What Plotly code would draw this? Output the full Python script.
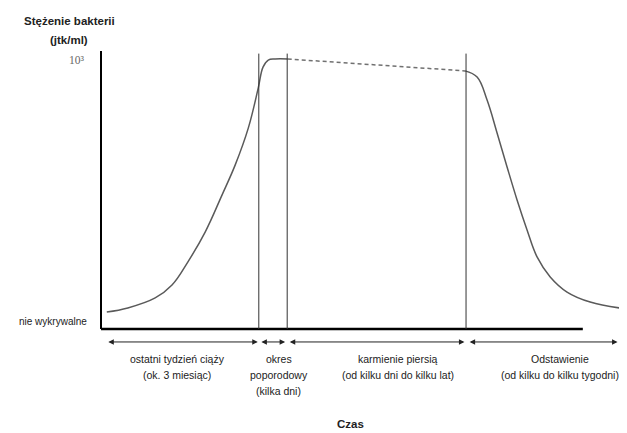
import plotly.graph_objects as go

# ---- data (time in arbitrary units, level: 0 = undetectable, 1 = 10^3 jtk/ml) ----
rise_t = [1.1, 5.1, 10.3, 13.5, 16.5, 19.8, 23.0, 25.5, 28.0, 29.9, 30.8, 31.8, 33.1, 35.5]
rise_v = [0.063, 0.078, 0.115, 0.163, 0.248, 0.359, 0.496, 0.607, 0.744, 0.893, 0.970, 0.996, 1.0, 1.0]
plateau_t = [35.5, 69.2]
plateau_v = [1.0, 0.956]
fall_t = [69.2, 71.5, 73.4, 75.3, 77.2, 79.1, 81.0, 82.9, 85.4, 88.6, 93.0, 100.0]
fall_v = [0.956, 0.933, 0.848, 0.726, 0.600, 0.478, 0.367, 0.267, 0.193, 0.137, 0.100, 0.074]

phase_bounds = [30.0, 35.4, 69.4]
axis_end_t = 91.6
segments = [(1.1, 29.8), (30.2, 35.0), (35.6, 69.1), (69.8, 98.2)]
phase_labels = [
    ["ostatni tydzień ciąży", "(ok. 3 miesiąc)"],
    ["okres", "poporodowy", "(kilka dni)"],
    ["karmienie piersią", "(od kilku dni do kilku lat)"],
    ["Odstawienie", "(od kilku do kilku tygodni)"],
]
phase_label_t = [14.5, 33.8, 56.4, 87.3]
y_ticks = [0.0, 1.0]
y_ticktext = ["nie wykrywalne", "10³"]

CURVE = "#5a5a5a"
DARK = "#222222"

# ---- geometry (page body has an 8px margin) ----
OFF = 8
W, H = 627 - OFF, 433 - OFF
L, T, B = 98 - OFF, 48 - OFF, 100
R = 0
pw, ph = W - L - R, H - T - B
ppu_y = 270.0   # px per level unit (level 0 at ref px 329, level 1 at ref px 59)
ppu_x = 5.26    # px per time unit (t=0 at ref px 101)
xr = [(98 - 101) / ppu_x, (627 - 101) / ppu_x]
yr = [(329 - 333) / ppu_y, (329 - 48) / ppu_y]


def px_x(t):
    return (t - xr[0]) / (xr[1] - xr[0])


def px_y(v):
    return (v - yr[0]) / (yr[1] - yr[0])


def ref_to_paper(rx, ry):
    return (rx - OFF - L) / pw, (H - B - (ry - OFF)) / ph


fig = go.Figure()
fig.add_trace(go.Scatter(x=rise_t, y=rise_v, mode="lines",
                         line=dict(color=CURVE, width=1.5, shape="spline", smoothing=1.1),
                         hoverinfo="skip"))
fig.add_trace(go.Scatter(x=plateau_t, y=plateau_v, mode="lines",
                         line=dict(color="#707070", width=1.5, dash="4px,3px"),
                         hoverinfo="skip"))
fig.add_trace(go.Scatter(x=fall_t, y=fall_v, mode="lines",
                         line=dict(color=CURVE, width=1.5, shape="spline", smoothing=1.1),
                         hoverinfo="skip"))

shapes = []
shapes.append(dict(type="line", xref="x", yref="y", x0=0, x1=0, y0=0, y1=1.03,
                   line=dict(color="black", width=2)))
shapes.append(dict(type="line", xref="x", yref="y", x0=0, x1=axis_end_t, y0=0, y1=0,
                   line=dict(color="black", width=2.5)))
for b in phase_bounds:
    shapes.append(dict(type="line", xref="x", yref="y", x0=b, x1=b, y0=0, y1=1.02,
                       line=dict(color="#333333", width=1)))

annotations = []
arrow_y = px_y(-0.048)
for a, b in segments:
    annotations.append(dict(x=px_x(b), y=arrow_y, ax=(a - b) * ppu_x, ay=0,
                            xref="paper", yref="paper", axref="pixel", ayref="pixel",
                            text="", showarrow=True, arrowhead=2, arrowsize=1.1,
                            arrowwidth=1, arrowside="end+start", arrowcolor=DARK,
                            standoff=0, startstandoff=0))
line_y = [359, 375, 391]
for lines, t in zip(phase_labels, phase_label_t):
    for k, txt in enumerate(lines):
        _, py = ref_to_paper(0, line_y[k])
        annotations.append(dict(x=px_x(t), y=py, xref="paper", yref="paper", text=txt,
                                showarrow=False, xanchor="center", yanchor="middle",
                                font=dict(family="Liberation Sans", size=10.5, color=DARK)))

# y-level labels
annotations.append(dict(x=px_x(-2.2), y=px_y(y_ticks[0] + 0.028), xref="paper", yref="paper",
                        text=y_ticktext[0], showarrow=False, xanchor="right", yanchor="middle",
                        font=dict(family="Liberation Sans", size=10, color=DARK)))
annotations.append(dict(x=px_x(-2.6), y=px_y(y_ticks[1] - 0.005), xref="paper", yref="paper",
                        text=y_ticktext[1], showarrow=False, xanchor="right", yanchor="middle",
                        font=dict(family="Liberation Serif", size=11.5, color="#666666")))

for txt, rx, ry in [("<b>Stężenie bakterii</b>", 69, 21), ("<b>(jtk/ml)</b>", 69, 40),
                    ("<b>Czas</b>", 350, 424)]:
    ax_, ay_ = ref_to_paper(rx, ry)
    annotations.append(dict(x=ax_, y=ay_, xref="paper", yref="paper", text=txt,
                            showarrow=False, xanchor="center", yanchor="middle",
                            font=dict(family="Liberation Sans", size=11.5, color=DARK)))

fig.update_layout(
    width=W, height=H,
    margin=dict(l=L, r=R, t=T, b=B),
    paper_bgcolor="white", plot_bgcolor="white",
    showlegend=False,
    shapes=shapes, annotations=annotations,
    xaxis=dict(range=xr, visible=False, fixedrange=True),
    yaxis=dict(range=yr, visible=False, fixedrange=True),
)
fig.write_html("out.html")
